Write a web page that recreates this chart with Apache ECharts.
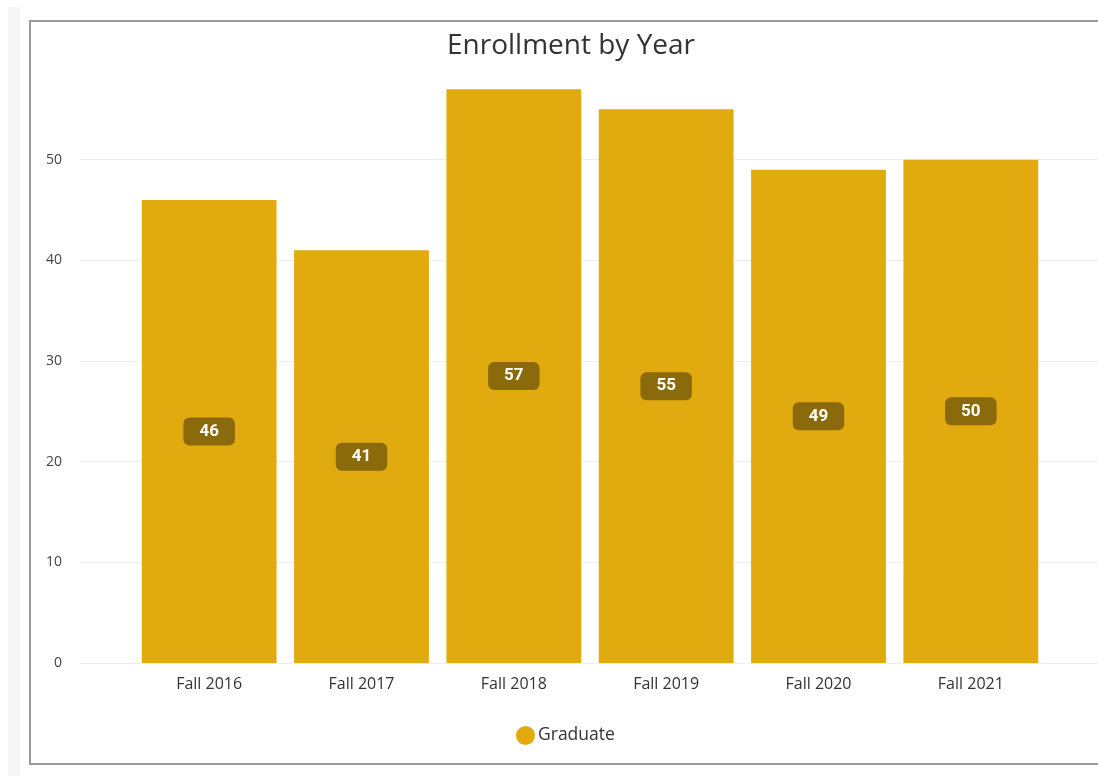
<!DOCTYPE html>
<html><head><meta charset="utf-8">
<script src="https://cdn.jsdelivr.net/npm/echarts@6/dist/echarts.min.js"></script>
<style>html,body{margin:0;padding:0;background:#fff}#c{width:1098px;height:776px}</style>
</head><body><div id="c"></div>
<script>
const categories = ['Fall 2016','Fall 2017','Fall 2018','Fall 2019','Fall 2020','Fall 2021'];
const graduate = [46, 41, 57, 55, 49, 50];
const yTicks = [0, 10, 20, 30, 40, 50];

const chart = echarts.init(document.getElementById('c'));
const font = '"Open Sans", "Noto Sans", sans-serif';
chart.setOption({
  animation: false,
  title: {
    text: 'Enrollment by Year', left: 442, top: 27,
    textStyle: { fontFamily: font, fontSize: 28, fontWeight: 'normal', color: '#333' }
  },
  graphic: [
    { type: 'rect', shape: { x: 8, y: 7, width: 12, height: 780 }, style: { fill: '#f7f7f7' }, silent: true },
    { type: 'rect', shape: { x: 30, y: 21, width: 1090, height: 743 }, style: { fill: 'none', stroke: '#9a9a9a', lineWidth: 2 }, silent: true }
  ],
  legend: {
    data: ['Graduate'], left: 511, top: 721, icon: 'circle', itemWidth: 19, itemHeight: 19, itemGap: 4,
    textStyle: { fontFamily: font, fontSize: 17.5, color: '#333', padding: [0, 0, 0, -2] }
  },
  grid: [
    { left: 80, right: 0, top: 59, bottom: 113 },
    { left: 133, right: 51, top: 59, bottom: 113 }
  ],
  xAxis: [
    { gridIndex: 0, type: 'value', show: false, min: 0, max: 1 },
    {
      gridIndex: 1, type: 'category', data: categories,
      axisLine: { show: false }, axisTick: { show: false },
      axisLabel: { fontFamily: font, fontSize: 16, color: '#333', margin: 13 }
    }
  ],
  yAxis: [
    {
      gridIndex: 0, type: 'value', min: 0, max: 60, interval: 10,
      axisLine: { show: false }, axisTick: { show: false },
      axisLabel: { fontFamily: font, fontSize: 14, color: '#444', margin: 18,
        formatter: v => yTicks.indexOf(v) >= 0 ? String(v) : '' },
      splitLine: { lineStyle: { color: '#eeeeee', width: 1 }, showMaxLine: false }
    },
    { gridIndex: 1, type: 'value', min: 0, max: 60, interval: 10, show: false, splitLine: { show: false } }
  ],
  series: [{
    name: 'Graduate', type: 'bar', xAxisIndex: 1, yAxisIndex: 1,
    data: graduate, barCategoryGap: '11.5%',
    itemStyle: { color: '#E1AA0F' },
    label: {
      show: true, position: 'inside',
      fontFamily: 'Roboto, sans-serif', fontWeight: 'bold', fontSize: 17, color: '#fff',
      backgroundColor: '#8a6a0b', borderRadius: 6, padding: [6, 16, 5, 16]
    }
  }]
});
</script></body></html>
